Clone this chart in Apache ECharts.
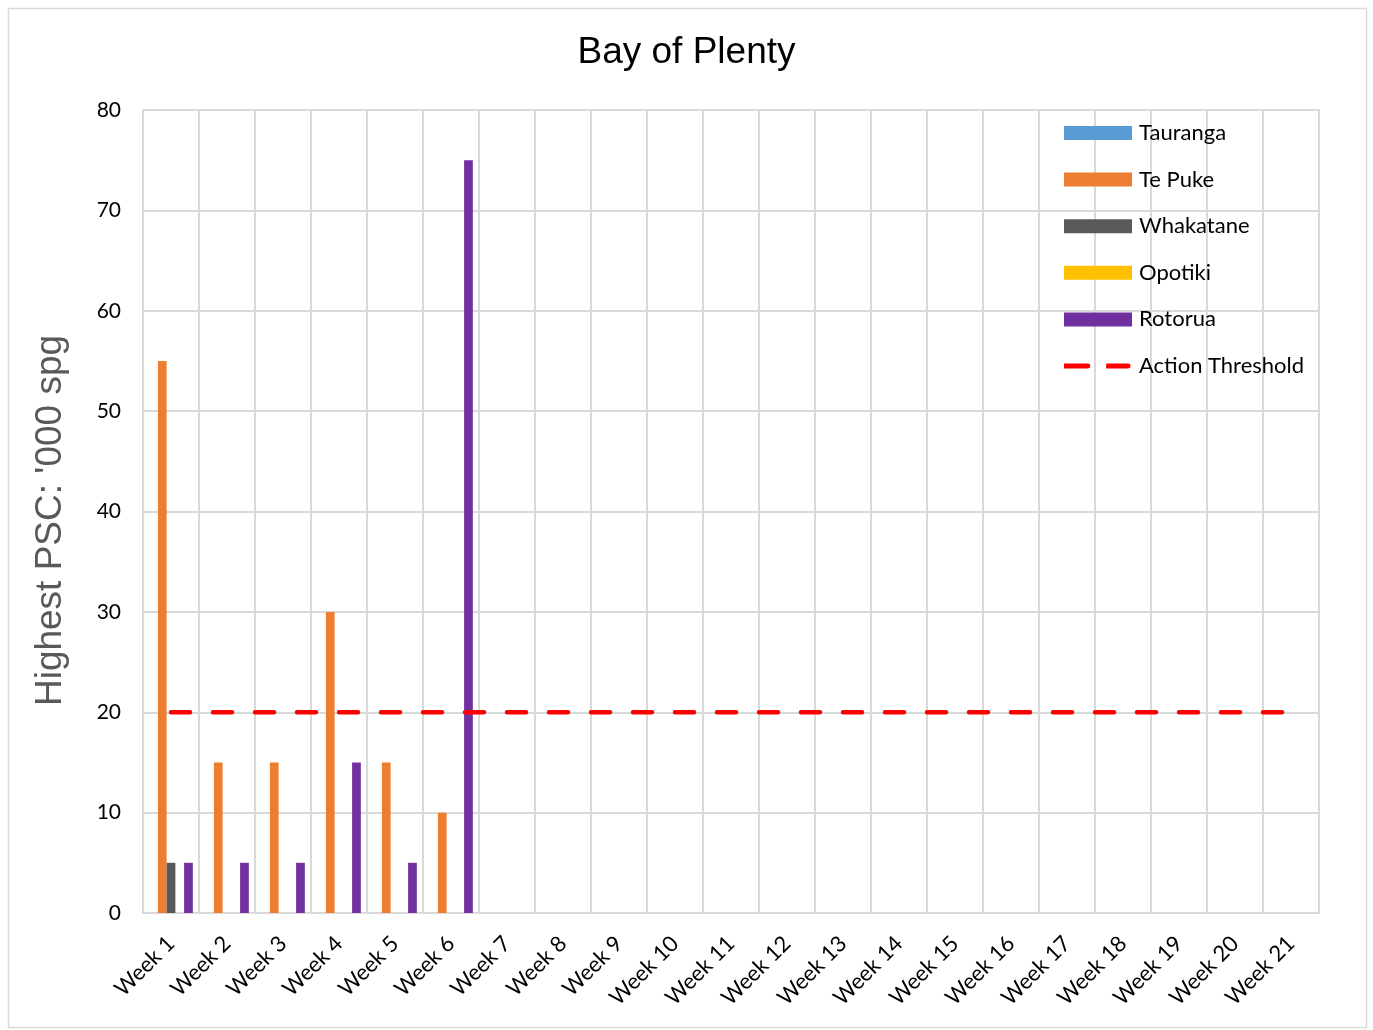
<!DOCTYPE html>
<html>
<head>
<meta charset="utf-8">
<script src="https://cdn.jsdelivr.net/npm/echarts@6/dist/echarts.min.js"></script>
<style>
html,body{margin:0;padding:0;background:#fff;}
#main{width:1373px;height:1030px;}
</style>
</head>
<body>
<div id="main"></div>
<script>
const weeks = ['Week 1','Week 2','Week 3','Week 4','Week 5','Week 6','Week 7','Week 8','Week 9','Week 10','Week 11','Week 12','Week 13','Week 14','Week 15','Week 16','Week 17','Week 18','Week 19','Week 20','Week 21'];
const tauranga  = [0,0,0,0,0,0,null,null,null,null,null,null,null,null,null,null,null,null,null,null,null];
const tePuke    = [55,15,15,30,15,10,null,null,null,null,null,null,null,null,null,null,null,null,null,null,null];
const whakatane = [5,0,0,0,0,0,null,null,null,null,null,null,null,null,null,null,null,null,null,null,null];
const opotiki   = [0,0,0,0,0,0,null,null,null,null,null,null,null,null,null,null,null,null,null,null,null];
const rotorua   = [5,5,5,15,5,75,null,null,null,null,null,null,null,null,null,null,null,null,null,null,null];
const threshold = [20,20,20,20,20,20,20,20,20,20,20,20,20,20,20,20,20,20,20,20,20];

const chart = echarts.init(document.getElementById('main'), null, {renderer:'canvas'});
const barCommon = {type:'bar', barGap:'0%', barCategoryGap:'22%'};
const dashIcon = 'path://M0,0 M-3,4.5 H22 A2.5,2.5 0 0 1 22,9.5 H-3 Z M41,4.5 H64 A2.5,2.5 0 0 1 64,9.5 H41 Z M68,14';
chart.setOption({
  animation:false,
  backgroundColor:'#fff',
  graphic:[{type:'rect', shape:{x:8.5,y:8.5,width:1358,height:1019}, style:{fill:'none', stroke:'#d9d9d9', lineWidth:1.5}, silent:true}],
  title:{text:'Bay of Plenty', left:'center', top:29, textStyle:{fontFamily:'Liberation Sans', fontSize:37, fontWeight:'normal', color:'#000'}},
  grid:{left:143, right:54, top:110, bottom:117, show:true, borderColor:'#d9d9d9', borderWidth:2, backgroundColor:'transparent'},
  legend:{
    orient:'vertical', left:1064, top:122, padding:0, itemWidth:68, itemHeight:14, itemGap:24.6,
    icon:'rect',
    textStyle:{fontFamily:'Lato', fontSize:22, color:'#000', padding:[0,0,0,2]},
    data:['Tauranga','Te Puke','Whakatane','Opotiki','Rotorua',{name:'Action Threshold', icon:dashIcon}]
  },
  xAxis:{
    type:'category', data:weeks, boundaryGap:true,
    axisLine:{show:true, lineStyle:{color:'#d9d9d9', width:2}},
    axisTick:{show:false},
    splitLine:{show:true, lineStyle:{color:'#d9d9d9', width:2}},
    axisLabel:{rotate:45, interval:0, margin:27, fontFamily:'Lato', fontSize:22, color:'#000'}
  },
  yAxis:{
    type:'value', min:0, max:80, interval:10,
    name:"Highest PSC: '000 spg", nameLocation:'middle', nameGap:74, nameRotate:90,
    nameTextStyle:{fontFamily:'Liberation Sans', fontSize:37, color:'#595959', padding:[0,18,0,0]},
    axisLine:{show:false}, axisTick:{show:false},
    splitLine:{show:true, lineStyle:{color:'#d9d9d9', width:2}},
    axisLabel:{margin:22, fontFamily:'Lato', fontSize:21, color:'#000'}
  },
  series:[
    Object.assign({name:'Tauranga', data:tauranga, itemStyle:{color:'#5B9BD5'}}, barCommon),
    Object.assign({name:'Te Puke', data:tePuke, itemStyle:{color:'#ED7D31'}}, barCommon),
    Object.assign({name:'Whakatane', data:whakatane, itemStyle:{color:'#595959'}}, barCommon),
    Object.assign({name:'Opotiki', data:opotiki, itemStyle:{color:'#FFC000'}}, barCommon),
    Object.assign({name:'Rotorua', data:rotorua, itemStyle:{color:'#7030A0'}}, barCommon),
    {name:'Action Threshold', type:'line', data:threshold, symbol:'none', z:5,
     itemStyle:{color:'#FF0000'},
     lineStyle:{color:'#FF0000', width:4.5, type:[19,23], cap:'round'}}
  ]
});
</script>
</body>
</html>
